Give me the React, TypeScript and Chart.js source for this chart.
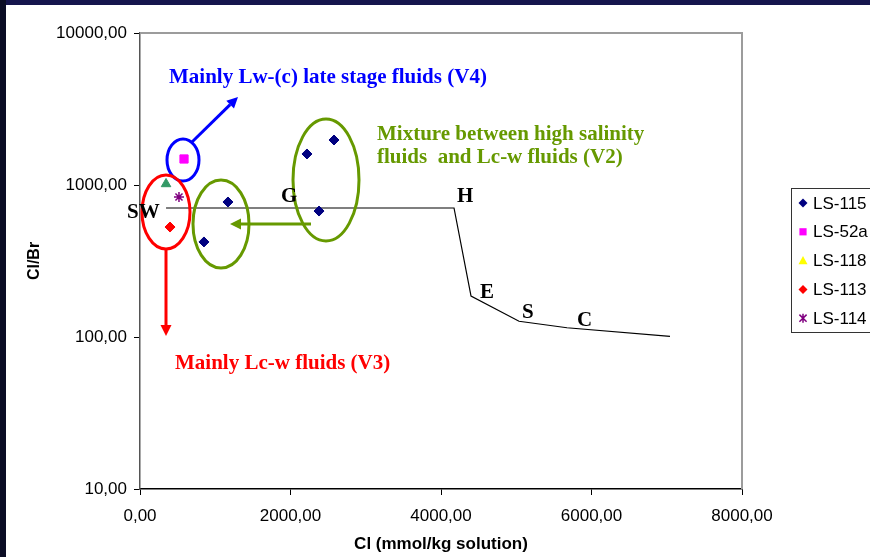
import React, { useEffect, useRef } from "react";
import { Chart, registerables } from "chart.js";

Chart.register(...registerables);

// ---- data ----
const ls115Cl = [850, 1169, 2219, 2379, 2578];
const ls115Ratio = [422, 773, 1600, 674, 1977];
const ls52aCl = [585];
const ls52aRatio = [1483];
const ls118Cl = [346];
const ls118Ratio = [1016];
const ls113Cl = [399];
const ls113Ratio = [529];
const ls114Cl = [518];
const ls114Ratio = [834];
const seawaterCl = [346, 4173, 4399, 5037, 5674, 7043];
const seawaterRatio = [706, 706, 186, 127, 115, 101];
const yTickValues = [10, 100, 1000, 10000];
const xTickStep = 2000;

const SANS = '"Liberation Sans", Arial, sans-serif';
const SERIF = '"Liberation Serif", "Times New Roman", serif';

const toPts = (xs: number[], ys: number[]) => xs.map((x, i) => ({ x, y: ys[i] }));
const fmt = (v: number) => Number(v).toFixed(2).replace(".", ",");

function drawMarker(ctx: CanvasRenderingContext2D, style: string, color: string, x: number, y: number, r: number) {
  ctx.save();
  ctx.fillStyle = color;
  ctx.strokeStyle = color;
  ctx.beginPath();
  if (style === "rectRot") {
    ctx.moveTo(x, y - r);
    ctx.lineTo(x + r, y);
    ctx.lineTo(x, y + r);
    ctx.lineTo(x - r, y);
    ctx.closePath();
    ctx.fill();
  } else if (style === "rect") {
    ctx.rect(x - r * 0.8, y - r * 0.8, r * 1.6, r * 1.6);
    ctx.fill();
  } else if (style === "triangle") {
    ctx.moveTo(x, y - r);
    ctx.lineTo(x + r, y + r * 0.8);
    ctx.lineTo(x - r, y + r * 0.8);
    ctx.closePath();
    ctx.fill();
  } else if (style === "star") {
    ctx.lineWidth = 1.5;
    ctx.moveTo(x, y - r);
    ctx.lineTo(x, y + r);
    const d = r * 0.8;
    ctx.moveTo(x - d, y - d);
    ctx.lineTo(x + d, y + d);
    ctx.moveTo(x + d, y - d);
    ctx.lineTo(x - d, y + d);
    ctx.stroke();
  }
  ctx.restore();
}

function ellipse(ctx: CanvasRenderingContext2D, cx: number, cy: number, rx: number, ry: number, color: string) {
  ctx.save();
  ctx.beginPath();
  ctx.ellipse(cx, cy, rx, ry, 0, 0, Math.PI * 2);
  ctx.strokeStyle = color;
  ctx.lineWidth = 3;
  ctx.stroke();
  ctx.restore();
}

function arrow(ctx: CanvasRenderingContext2D, x1: number, y1: number, x2: number, y2: number, color: string) {
  const ang = Math.atan2(y2 - y1, x2 - x1);
  const head = 11;
  const hw = 5.5;
  const bx = x2 - Math.cos(ang) * head;
  const by = y2 - Math.sin(ang) * head;
  ctx.save();
  ctx.strokeStyle = color;
  ctx.fillStyle = color;
  ctx.lineWidth = 3;
  ctx.beginPath();
  ctx.moveTo(x1, y1);
  ctx.lineTo(bx, by);
  ctx.stroke();
  ctx.beginPath();
  ctx.moveTo(x2, y2);
  ctx.lineTo(bx + Math.sin(ang) * hw, by - Math.cos(ang) * hw);
  ctx.lineTo(bx - Math.sin(ang) * hw, by + Math.cos(ang) * hw);
  ctx.closePath();
  ctx.fill();
  ctx.restore();
}

const framePlugin = {
  id: "frame",
  beforeDraw(chart: any) {
    const ctx = chart.ctx as CanvasRenderingContext2D;
    ctx.save();
    ctx.fillStyle = "#ffffff";
    ctx.fillRect(0, 0, chart.width, chart.height);
    ctx.fillStyle = "#15154d";
    ctx.fillRect(0, 0, chart.width, 5);
    ctx.fillStyle = "#0b0d25";
    ctx.fillRect(0, 0, 6, chart.height);
    ctx.restore();
  },
  afterDraw(chart: any) {
    const ctx = chart.ctx as CanvasRenderingContext2D;
    const a = chart.chartArea;
    ctx.save();
    // plot frame (top + right)
    ctx.strokeStyle = "#9c9c9c";
    ctx.lineWidth = 2;
    ctx.beginPath();
    ctx.moveTo(a.left, a.top);
    ctx.lineTo(a.right, a.top);
    ctx.lineTo(a.right, a.bottom);
    ctx.stroke();

    // annotations
    ellipse(ctx, 183, 160, 16, 21, "#0000ff");
    arrow(ctx, 192, 142, 238, 97, "#0000ff");
    ellipse(ctx, 166, 212, 24, 37, "#ff0000");
    arrow(ctx, 166, 249, 166, 336, "#ff0000");
    ellipse(ctx, 221, 224, 28, 44, "#669900");
    ellipse(ctx, 326, 180, 33, 61, "#669900");
    arrow(ctx, 311, 224, 230, 224, "#669900");

    ctx.font = `bold 21px ${SERIF}`;
    ctx.textBaseline = "alphabetic";
    ctx.textAlign = "left";
    ctx.fillStyle = "#0000ff";
    ctx.fillText("Mainly Lw-(c) late stage fluids (V4)", 169, 83);
    ctx.fillStyle = "#ff0000";
    ctx.fillText("Mainly Lc-w fluids (V3)", 175, 369);
    ctx.fillStyle = "#669900";
    ctx.fillText("Mixture between high salinity", 377, 140);
    ctx.fillText("fluids  and Lc-w fluids (V2)", 377, 163);

    ctx.fillStyle = "#000000";
    ctx.fillText("SW", 127, 218);
    ctx.fillText("G", 281, 202);
    ctx.fillText("H", 457, 202);
    ctx.fillText("E", 480, 298);
    ctx.fillText("S", 522, 318);
    ctx.fillText("C", 577, 326);

    // legend
    ctx.strokeStyle = "#333333";
    ctx.lineWidth = 1;
    ctx.strokeRect(791.5, 188.5, 120, 144);
    ctx.font = `17px ${SANS}`;
    ctx.textBaseline = "middle";
    const items = chart.data.datasets.filter((d: any) => d.inLegend);
    items.forEach((d: any, i: number) => {
      const y = 203 + i * 28.8;
      drawMarker(ctx, d.pointStyle, d.legendColor || d.backgroundColor, 803, y, 4.5);
      ctx.fillStyle = "#000000";
      ctx.fillText(d.label, 813, y + 1);
    });
    ctx.restore();
  },
};

export default function App() {
  const ref = useRef<HTMLCanvasElement>(null);

  useEffect(() => {
    const canvas = ref.current!;
    const chart = new Chart(canvas, {
      type: "scatter",
      data: {
        datasets: [
          {
            label: "LS-115",
            data: toPts(ls115Cl, ls115Ratio),
            pointStyle: "rectRot",
            backgroundColor: "#000080",
            borderColor: "#000080",
            pointRadius: 5,
            inLegend: true,
          } as any,
          {
            label: "LS-52a",
            data: toPts(ls52aCl, ls52aRatio),
            pointStyle: "rect",
            backgroundColor: "#ff00ff",
            borderColor: "#ff00ff",
            pointRadius: 5.8,
            inLegend: true,
          } as any,
          {
            label: "LS-118",
            data: toPts(ls118Cl, ls118Ratio),
            pointStyle: "triangle",
            backgroundColor: "#339966",
            borderColor: "#339966",
            legendColor: "#ffff00",
            pointRadius: 5.5,
            inLegend: true,
          } as any,
          {
            label: "LS-113",
            data: toPts(ls113Cl, ls113Ratio),
            pointStyle: "rectRot",
            backgroundColor: "#ff0000",
            borderColor: "#ff0000",
            pointRadius: 5,
            inLegend: true,
          } as any,
          {
            label: "LS-114",
            data: toPts(ls114Cl, ls114Ratio),
            pointStyle: "star",
            backgroundColor: "#800080",
            borderColor: "#800080",
            borderWidth: 1.5,
            pointRadius: 5,
            inLegend: true,
          } as any,
          {
            label: "Seawater evaporation",
            data: toPts(seawaterCl, seawaterRatio),
            showLine: true,
            borderColor: "#000000",
            borderWidth: 1.2,
            pointRadius: 0,
            fill: false,
            inLegend: false,
          } as any,
        ],
      },
      options: {
        responsive: false,
        devicePixelRatio: 1,
        animation: false,
        layout: { padding: { left: 0, top: 33, right: 128, bottom: 0 } },
        plugins: { legend: { display: false }, tooltip: { enabled: false } },
        scales: {
          x: {
            type: "linear",
            min: 0,
            max: 8000,
            ticks: {
              stepSize: xTickStep,
              color: "#000000",
              font: { family: SANS, size: 17 },
              padding: 11,
              maxRotation: 0,
              callback: (v: any) => fmt(v),
            },
            grid: { drawOnChartArea: false, drawTicks: true, tickLength: 6, color: "#000000" },
            border: { display: true, color: "#000000", width: 1.5 },
            title: {
              display: true,
              text: "Cl (mmol/kg solution)",
              color: "#000000",
              font: { family: SANS, size: 17, weight: "bold" },
              padding: { top: 0, bottom: 2 },
            },
            afterFit: (s: any) => {
              s.height = 68;
            },
          },
          y: {
            type: "logarithmic",
            min: 10,
            max: 10000,
            afterBuildTicks: (s: any) => {
              s.ticks = yTickValues.map((v) => ({ value: v }));
            },
            ticks: {
              color: "#000000",
              font: { family: SANS, size: 17 },
              padding: 7,
              callback: (v: any) => fmt(v),
            },
            grid: { drawOnChartArea: false, drawTicks: true, tickLength: 6, color: "#000000" },
            border: { display: true, color: "#555555", width: 1.5 },
            title: {
              display: true,
              text: "Cl/Br",
              color: "#000000",
              font: { family: SANS, size: 16, weight: "bold" },
              padding: { top: 25, bottom: 0 },
            },
            afterFit: (s: any) => {
              s.width = 140;
            },
          },
        },
      } as any,
      plugins: [framePlugin],
    });
    return () => chart.destroy();
  }, []);

  return (
    <div style={{ position: "fixed", left: 0, top: 0, width: 870, height: 557, background: "#fff" }}>
      <canvas ref={ref} width={870} height={557} style={{ display: "block", width: 870, height: 557 }} />
    </div>
  );
}
